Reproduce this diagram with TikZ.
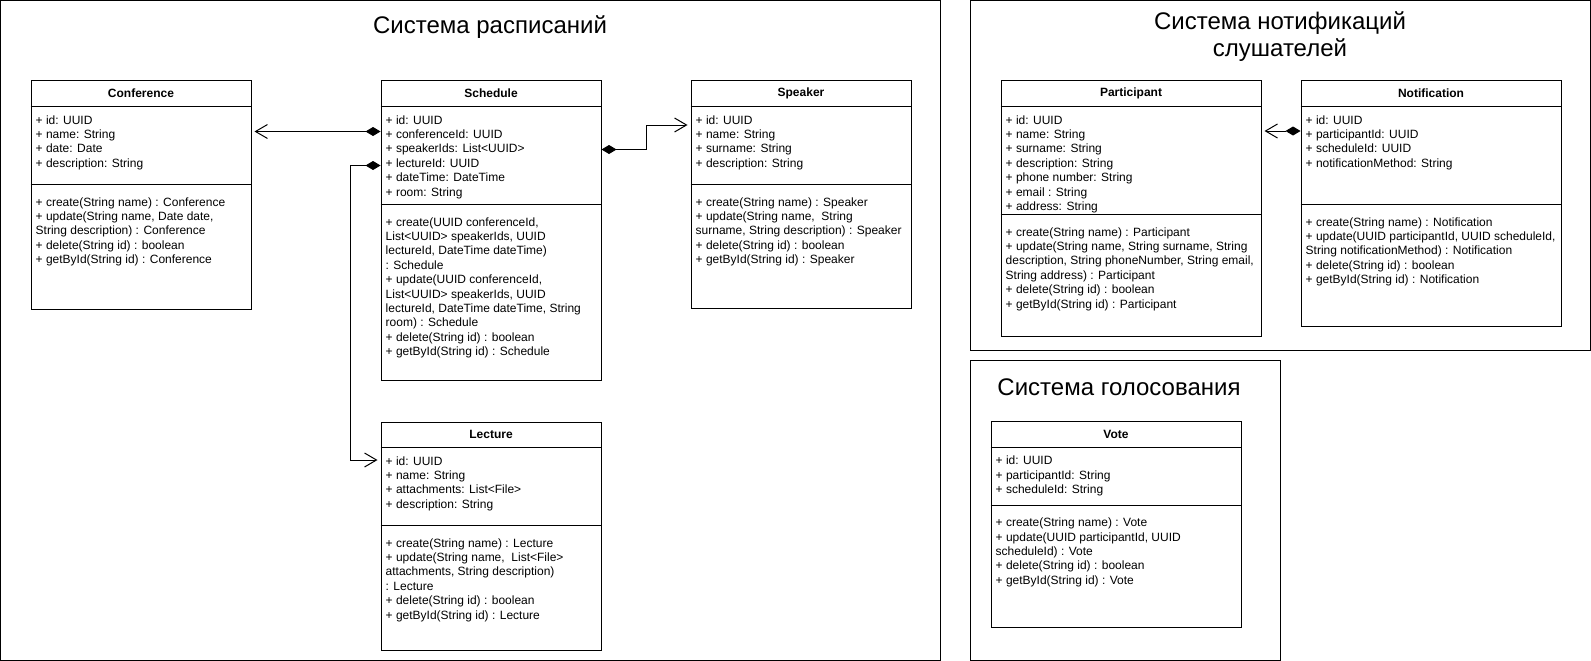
\documentclass[tikz,border=0pt]{standalone}
\usepackage{fontspec}
\setmainfont{Liberation Sans}
\usetikzlibrary{arrows.meta}

\tikzset{
  umlbox/.style={draw, line width=1pt, anchor=north west, inner sep=0pt},
  umlname/.style={font=\fontsize{12}{14.4}\selectfont\bfseries},
  umltext/.style={anchor=north west, inner sep=0pt, align=left, font=\fontsize{12}{14.4}\selectfont},
  frametitle/.style={anchor=base, inner sep=0pt, align=center, font=\fontsize{24}{27}\selectfont},
  frame/.style={line width=1pt},
  comp/.style={line width=1pt, arrows={Diamond[length=15pt,width=9pt]-Straight Barb[length=12pt,width=14pt]}, shorten >=3pt},
}

\newcommand{\umlclass}[8]{%
  \node[umlbox, minimum width=#3, minimum height=#4] (#1) at #2 {};
  \node[umlname] (#1-name) at ([yshift=-13pt]#1.north) {#6};
  \draw[line width=1pt] ([yshift=-26pt]#1.north west) -- ([yshift=-26pt]#1.north east);
  \draw[line width=1pt] ([yshift=-#5pt]#1.north west) -- ([yshift=-#5pt]#1.north east);
  \node[umltext] (#1-attr) at ([xshift=5pt,yshift=-33.4pt]#1.north west) {\strut #7};
  \node[umltext] (#1-ops) at ([xshift=5pt,yshift=-#5pt-11.4pt]#1.north west) {\strut #8};
}

\begin{document}
\begin{tikzpicture}[x=1pt, y=-1pt]
\useasboundingbox (0,0) rectangle (1591,661);

\draw[frame] (0.5,0.5) rectangle (940,660);
\draw[frame] (970.5,0.5) rectangle (1590,350.5);
\draw[frame] (970.5,360.5) rectangle (1280.5,660);
\node[frametitle] (schedtitle) at (490,33.3) {Система расписаний};
\node[frametitle] (notiftitle) at (1280,56.7) {Система нотификаций\\слушателей};
\node[frametitle] (votetitle) at (1119,395) {Система голосования};

\umlclass{conf}{(30.5,80.5)}{220}{228}{104}{Conference}
  {+ id: UUID\\+ name: String\\+ date: Date\\+ description: String}
  {+ create(String name) : Conference\\+ update(String name, Date date,\\String description) : Conference\\+ delete(String id) : boolean\\+ getById(String id) : Conference}

\umlclass{sched}{(380.5,80.5)}{220}{299.5}{124}{Schedule}
  {+ id: UUID\\+ conferenceId: UUID\\+ speakerIds: List<UUID>\\+ lectureId: UUID\\+ dateTime: DateTime\\+ room: String}
  {+ create(UUID conferenceId,\\List<UUID> speakerIds, UUID\\lectureId, DateTime dateTime)\\: Schedule\\+ update(UUID conferenceId,\\List<UUID> speakerIds, UUID\\lectureId, DateTime dateTime, String\\room) : Schedule\\+ delete(String id) : boolean\\+ getById(String id) : Schedule}

\umlclass{speaker}{(690.5,80.5)}{220}{227}{104}{Speaker}
  {+ id: UUID\\+ name: String\\+ surname: String\\+ description: String}
  {+ create(String name) : Speaker\\+ update(String name,~ String\\surname, String description) : Speaker\\+ delete(String id) : boolean\\+ getById(String id) : Speaker}

\umlclass{lecture}{(380.5,421.5)}{220}{228}{104}{Lecture}
  {+ id: UUID\\+ name: String\\+ attachments: List<File>\\+ description: String}
  {+ create(String name) : Lecture\\+ update(String name,~ List<File>\\attachments, String description)\\: Lecture\\+ delete(String id) : boolean\\+ getById(String id) : Lecture}

\umlclass{part}{(1000.5,80.5)}{260}{255}{134}{Participant}
  {+ id: UUID\\+ name: String\\+ surname: String\\+ description: String\\+ phone number: String\\+ email : String\\+ address: String}
  {+ create(String name) : Participant\\+ update(String name, String surname, String\\description, String phoneNumber, String email,\\String address) : Participant\\+ delete(String id) : boolean\\+ getById(String id) : Participant}

\umlclass{notif}{(1300.5,80.5)}{260}{245.5}{124}{Notification}
  {+ id: UUID\\+ participantId: UUID\\+ scheduleId: UUID\\+ notificationMethod: String}
  {+ create(String name) : Notification\\+ update(UUID participantId, UUID scheduleId,\\String notificationMethod) : Notification\\+ delete(String id) : boolean\\+ getById(String id) : Notification}

\umlclass{vote}{(990.5,421)}{250}{206}{84}{Vote}
  {+ id: UUID\\+ participantId: String\\+ scheduleId: String}
  {+ create(String name) : Vote\\+ update(UUID participantId, UUID\\scheduleId) : Vote\\+ delete(String id) : boolean\\+ getById(String id) : Vote}

\draw[comp] ([yshift=-51pt]sched.north west) -- ([yshift=-51pt]conf.north east);
\draw[comp] ([yshift=-85pt]sched.north west) -- ++(-30,0) |- ([yshift=-38.5pt]lecture.north west);
\draw[comp] ([yshift=-69pt]sched.north east) -- ++(45,0) |- ([yshift=-44.5pt]speaker.north west);
\draw[comp] ([yshift=-50.5pt]notif.north west) -- ([yshift=-50.5pt]part.north east);
\end{tikzpicture}
\end{document}
